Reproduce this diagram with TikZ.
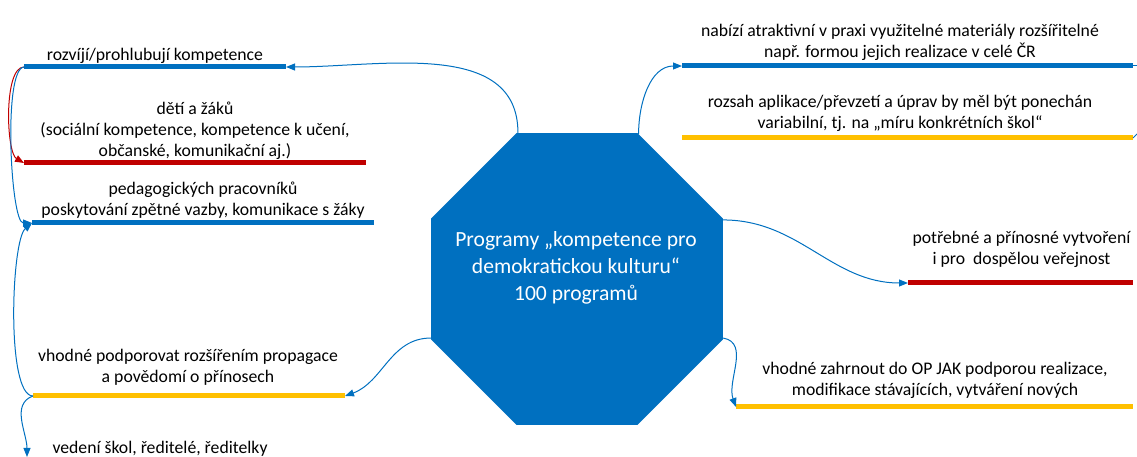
\documentclass[tikz,border=0pt]{standalone}
\usepackage{fontspec}
\setmainfont{Carlito}
\usepackage{tikz}
\usetikzlibrary{arrows.meta,shapes.geometric}
\definecolor{ProgBlue}{HTML}{0070C0}
\definecolor{BarRed}{HTML}{C00000}
\definecolor{BarYellow}{HTML}{FFC000}
\tikzset{
  bar/.style={line width=5pt},
  link/.style={ProgBlue,line width=1pt,-{Triangle[length=9pt,width=7pt]}},
  note/.style={align=center,inner sep=0pt,yshift=-2.5pt,font=\fontsize{17.7}{20.8}\selectfont},
}

\begin{document}
\begin{tikzpicture}[x=1pt,y=1pt]
  \useasboundingbox (0,0) rectangle (1137,457);
  % central octagon
  \node[regular polygon,regular polygon sides=8,minimum size=316pt,inner sep=0pt,fill=ProgBlue] (prog) at (577,178){};
  \node[align=center,inner sep=0pt,text=white,font=\fontsize{21.6}{27}\selectfont] (progtxt) at (576,189)
    {Programy „kompetence pro\\demokratickou kulturu“\\100 programů};

  % left side
  \coordinate (rozL) at (24,390); \coordinate (rozR) at (286,390);
  \draw[bar,ProgBlue] (rozL) -- (rozR);
  \node[note] (roz) at (155,404){rozvíjí/prohlubují kompetence};

  \coordinate (detiL) at (24,294); \coordinate (detiR) at (366,294);
  \draw[bar,BarRed] (detiL) -- (detiR);
  \node[note] (deti) at (195,329){dětí a žáků\\(sociální kompetence, kompetence k učení,\\občanské, komunikační aj.)};

  \coordinate (pedL) at (32,234); \coordinate (pedR) at (374,234);
  \draw[bar,ProgBlue] (pedL) -- (pedR);
  \node[note] (ped) at (203,259.5){pedagogických pracovníků\\poskytování zpětné vazby, komunikace s žáky};

  \coordinate (vhodL) at (33,61); \coordinate (vhodR) at (345,61);
  \draw[bar,BarYellow] (vhodL) -- (vhodR);
  \node[note] (vhod) at (188,92){vhodné podporovat rozšířením propagace\\a povědomí o přínosech};

  \node[note] (ved) at (160,11){vedení škol, ředitelé, ředitelky};
  \coordinate (vedA) at (27,0);

  % right side
  \coordinate (nabL) at (682,391); \coordinate (nabR) at (1133,391);
  \draw[bar,ProgBlue] (nabL) -- (nabR);
  \node[note] (nab) at (900,417.5){nabízí atraktivní v praxi využitelné materiály rozšířitelné\\např. formou jejich realizace v celé ČR};

  \coordinate (rozsL) at (682,319); \coordinate (rozsR) at (1133,319);
  \draw[bar,BarYellow] (rozsL) -- (rozsR);
  \node[note] (rozs) at (900,346){rozsah aplikace/převzetí a úprav by měl být ponechán\\variabilní, tj. na „míru konkrétních škol“};

  \coordinate (potL) at (908,174); \coordinate (potR) at (1133,174);
  \draw[bar,BarRed] (potL) -- (potR);
  \node[note] (pot) at (1021.5,210){potřebné a přínosné vytvoření\\i pro~ dospělou veřejnost};

  \coordinate (zahL) at (736,50); \coordinate (zahR) at (1133,50);
  \draw[bar,BarYellow] (zahL) -- (zahR);
  \node[note] (zah) at (935,79.5){vhodné zahrnout do OP JAK podporou realizace,\\modifikace stávajících, vytváření nových};

  \coordinate (nabE) at (1137,391); \coordinate (rozsE) at (1137,323);

  % connectors
  \draw[link] (prog.112.5) to[out=90,in=0] (rozR);
  \draw[link,BarRed] (rozL) to[out=180,in=150,looseness=0.55] (detiL);
  \draw[link] (rozL) to[out=185,in=180,looseness=0.35] (pedL);
  \draw[link] (vhodL) to[out=180,in=220,looseness=0.4] (pedL);
  \draw[link] (vhodL) to[out=200,in=90] (vedA);
  \draw[link] (prog.202.5) to[out=180,in=20] (vhodR);
  \draw[link] (prog.67.5) to[out=90,in=180] (nabL);
  \draw[link] (prog.22.5) to[out=0,in=180] (potL);
  \draw[link] (prog.-22.5) to[out=-10,in=110] (zahL);
  \draw[ProgBlue,line width=1pt] (nabR) -- (nabE);
  \draw[ProgBlue,line width=1pt] (rozsR) -- (rozsE);
\end{tikzpicture}
\end{document}
